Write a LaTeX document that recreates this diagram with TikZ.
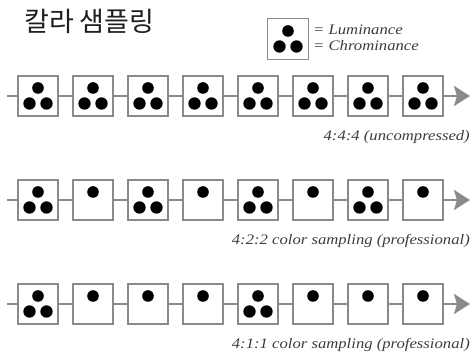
\documentclass[tikz,border=0pt]{standalone}
\usepackage{fontspec}
\newfontfamily\kofont{Noto Sans CJK KR}
\newfontfamily\labfont[FakeStretch=1.15]{Liberation Serif}
\usetikzlibrary{arrows.meta,calc}
\definecolor{edgegray}{HTML}{8A8A8A}
\definecolor{labelgray}{HTML}{3C3C3C}
\tikzset{
  sbox/.style={draw=edgegray, line width=1.6pt, fill=white, minimum width=40pt, minimum height=40pt, inner sep=0pt, outer sep=0pt},
  conn/.style={draw=edgegray, line width=2.6pt},
  labtext/.style={text=labelgray, font=\labfont\itshape\fontsize{14.5}{16}\selectfont, inner sep=0pt},
  lab/.style={labtext, anchor=base east},
}
\newcommand{\fulldots}[1]{%
  \fill[black] ($(#1)+(0,-8)$) circle (5.8pt);
  \fill[black] ($(#1)+(-8.5,7.5)$) circle (6.2pt);
  \fill[black] ($(#1)+(8.5,7.5)$) circle (6.2pt);}
\newcommand{\onedot}[1]{%
  \fill[black] ($(#1)+(0,-8)$) circle (5.8pt);}
\begin{document}
\begin{tikzpicture}[x=1pt,y=-1pt]
\useasboundingbox (0,0) rectangle (472,355);
\node[anchor=west, inner sep=0pt, font=\kofont\fontsize{27}{29}\selectfont, text=black!88] (title) at (24,21) {칼라 샘플링};
% legend
\node[sbox, minimum width=41pt, minimum height=41pt] (leg) at (288,39) {};
\fulldots{leg}
\node[labtext, anchor=base west] (l1) at (313,35) {= Luminance};
\node[labtext, anchor=base west] (l2) at (313,51) {= Chrominance};
% rows
\foreach \r/\cy in {1/96,2/200,3/304}{
  \coordinate (s\r) at (7,\cy);
  \coordinate (e\r) at (470,\cy);
  \foreach \i in {1,...,8}{
    \node[sbox] (b\r\i) at ({38+55*(\i-1)},\cy) {};
  }
}
\foreach \r in {1,2,3}{
  \draw[conn] (s\r) -- (b\r1.west);
  \foreach \i [evaluate=\i as \j using int(\i+1)] in {1,...,7}{
    \draw[conn] (b\r\i.east) -- (b\r\j.west);
  }
  \draw[conn, -{Stealth[length=16pt,width=20pt,inset=3pt]}] (b\r8.east) -- (e\r);
}
% dots
\foreach \i in {1,...,8}{ \fulldots{b1\i} }
\foreach \i in {1,3,5,7}{ \fulldots{b2\i} }
\foreach \i in {2,4,6,8}{ \onedot{b2\i} }
\fulldots{b31}\fulldots{b35}
\foreach \i in {2,3,4,6,7,8}{ \onedot{b3\i} }
% labels
\node[lab] (t1) at (470,141) {4:4:4 (uncompressed)};
\node[lab] (t2) at (470,245) {4:2:2 color sampling (professional)};
\node[lab] (t3) at (470,349) {4:1:1 color sampling (professional)};
\end{tikzpicture}
\end{document}
